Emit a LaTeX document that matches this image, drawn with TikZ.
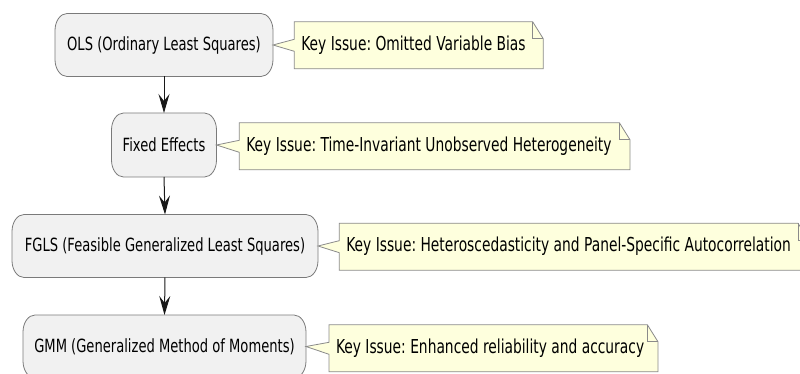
\documentclass[tikz,border=0pt]{standalone}
\usepackage{fontspec}
\setmainfont{DejaVu Sans}[FakeStretch=0.72, WordSpace=1.0]
\frenchspacing
\usetikzlibrary{arrows.meta,backgrounds}
\definecolor{boxfill}{HTML}{F1F1F1}
\definecolor{boxline}{HTML}{7A7A7A}
\definecolor{notefill}{HTML}{FEFFDD}
\definecolor{noteline}{HTML}{8A8A8A}
\definecolor{arrowcol}{HTML}{181818}
\tikzset{
  x=1pt, y=1pt,
  every node/.style={text=black},
  actbox/.style={font=\fontsize{18.2}{21}\selectfont\frenchspacing, inner sep=0pt, outer sep=0pt, minimum height=63pt},
  notebox/.style={font=\fontsize{19.2}{22}\selectfont\frenchspacing, inner ysep=0pt, inner xsep=7pt, outer sep=0pt, minimum height=47pt, anchor=west},
  boxshape/.style={draw=boxline, fill=boxfill, line width=0.8pt},
  noteshape/.style={draw=noteline, fill=notefill, line width=0.8pt},
  flow/.style={draw=arrowcol, line width=1pt, -{Stealth[length=19pt, width=11pt, inset=7pt]}}
}
\newcommand\myrrect[1]{%
  \path[boxshape] ([xshift=12pt]#1.north west) -- ([xshift=-12pt]#1.north east)
    arc[start angle=90, end angle=0, x radius=12pt, y radius=17pt]
    -- ([yshift=17pt]#1.south east)
    arc[start angle=0, end angle=-90, x radius=12pt, y radius=17pt]
    -- ([xshift=12pt]#1.south west)
    arc[start angle=270, end angle=180, x radius=12pt, y radius=17pt]
    -- ([yshift=-17pt]#1.north west)
    arc[start angle=180, end angle=90, x radius=12pt, y radius=17pt] -- cycle;}
\newcommand\mynote[2]{%
  \path[noteshape] (#1.north west) -- ([xshift=-10.6pt]#1.north east)
    -- ([yshift=-17pt]#1.north east) -- (#1.south east) -- (#1.south west)
    -- ([yshift=-6pt]#1.west) -- (#2.east) -- ([yshift=6pt]#1.west) -- cycle;
  \draw[noteshape, fill=none] ([xshift=-10.6pt]#1.north east)
    -- ([xshift=-10.6pt, yshift=-17pt]#1.north east) -- ([yshift=-17pt]#1.north east);}
\begin{document}
\begin{tikzpicture}
\useasboundingbox (0,0) rectangle (800,-374);
\clip (0,0) rectangle (800,-374);
% activity boxes
\node[actbox, minimum width=218pt] (ols) at (164,-45) {OLS (Ordinary Least Squares)};
\node[actbox, minimum width=105pt, minimum height=64pt] (fe) at (164,-145) {Fixed Effects};
\node[actbox, minimum width=306pt] (fgls) at (165,-246) {FGLS (Feasible Generalized Least Squares)};
\node[actbox, minimum width=283pt] (gmm) at (164.5,-346.5) {GMM (Generalized Method of Moments)};
% notes
\node[notebox] (n1) at (294.3,-45.3) {\makebox[235pt][l]{Key Issue: Omitted Variable Bias}};
\node[notebox] (n2) at (239.3,-146.3) {\makebox[376.7pt][l]{Key Issue: Time-Invariant Unobserved Heterogeneity}};
\node[notebox] (n3) at (339.3,-246.7) {\makebox[455.3pt][l]{Key Issue: Heteroscedasticity and Panel-Specific Autocorrelation}};
\node[notebox] (n4) at (329,-348.3) {\makebox[315pt][l]{Key Issue: Enhanced reliability and accuracy}};
\begin{scope}[on background layer]
  \myrrect{ols}
  \myrrect{fe}
  \myrrect{fgls}
  \myrrect{gmm}
  \mynote{n1}{ols}
  \mynote{n2}{fe}
  \mynote{n3}{fgls}
  \mynote{n4}{gmm}
\end{scope}
% connectors
\draw[flow] (ols.south) -- (fe.north);
\draw[flow] (fe.south) -- (fgls.north);
\draw[flow] (fgls.south) -- (gmm.north);
\end{tikzpicture}
\end{document}
